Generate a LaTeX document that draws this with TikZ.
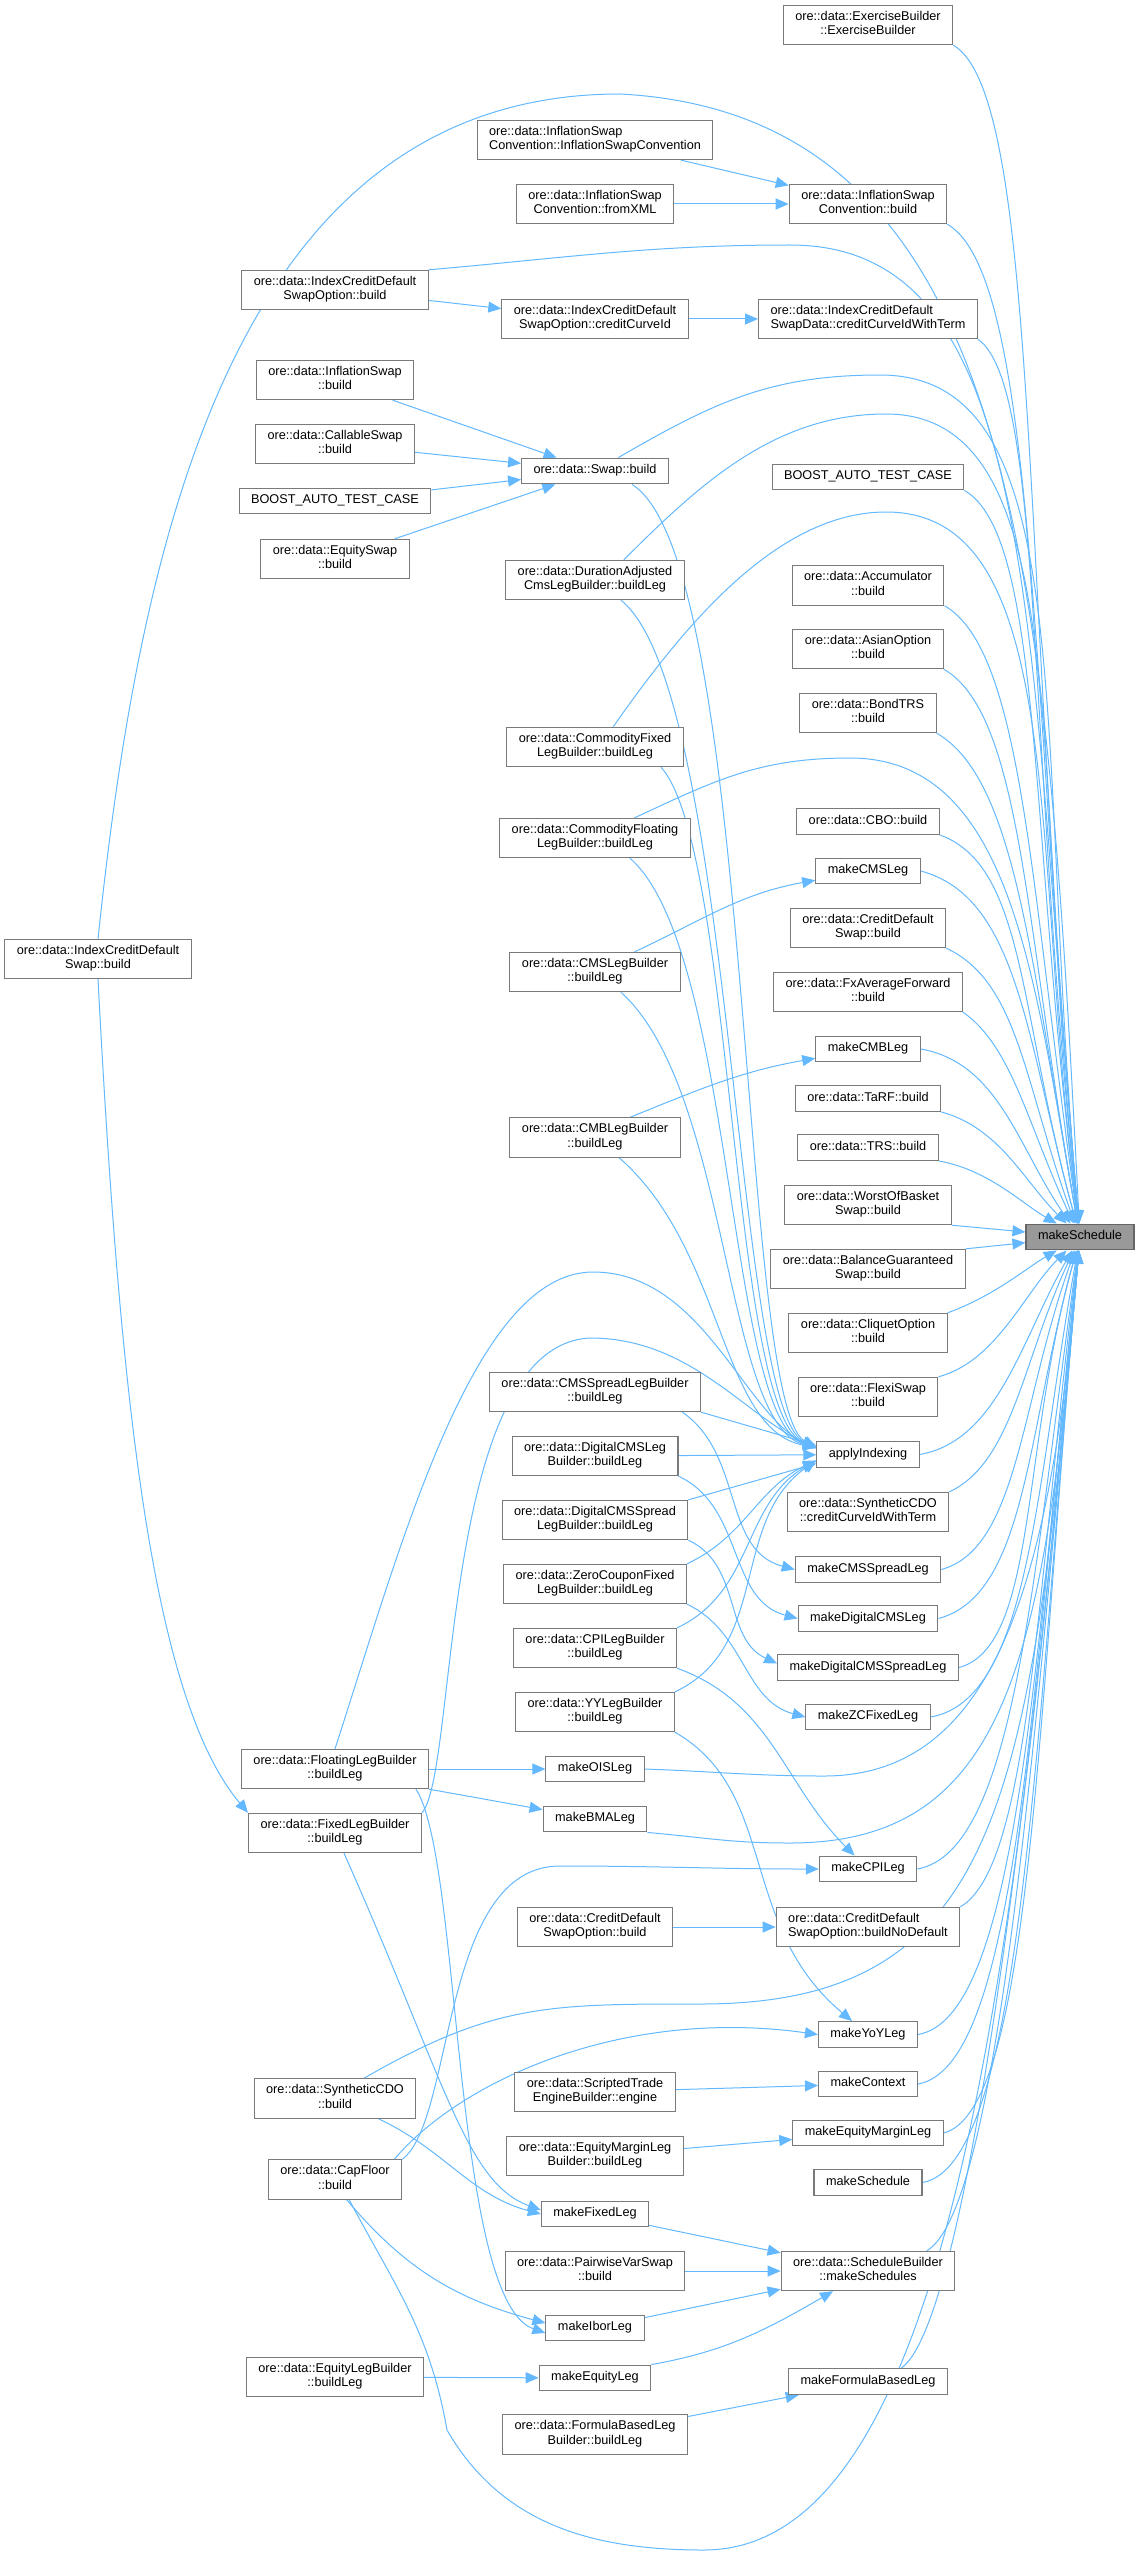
\documentclass[tikz,border=0pt]{standalone}
\usepackage{fontspec}
\setmainfont{Liberation Sans}
\usetikzlibrary{arrows.meta,backgrounds}
\definecolor{edgeblue}{HTML}{63B8FF}
\definecolor{boxline}{HTML}{7A7A7A}
\definecolor{focusfill}{HTML}{999999}

\begin{document}
\begin{tikzpicture}[x=1pt, y=1pt,
  fn/.style={draw=boxline, line width=1.1pt, fill=white, align=center, inner xsep=12pt, inner ysep=5.8pt,
    font=\fontsize{12.7}{14.2}\selectfont, execute at begin node=\strut, execute at end node=\strut},
  fnl/.style={fn, align=left},
  focus/.style={fn, fill=focusfill, draw=black!60},
  calls/.style={draw=edgeblue, line width=1pt, -{Triangle[length=13pt, width=11pt]}}]
\useasboundingbox (0,0) rectangle (1139,-2555);

% Left columns of callers
\node[fn] (icds) at (98,-959) {ore::data::IndexCreditDefault\\Swap::build};
\node[fn] (icdsobuild) at (335,-290) {ore::data::IndexCreditDefault\\SwapOption::build};
\node[fn] (infswap) at (335,-380) {ore::data::InflationSwap\\::build};
\node[fn] (callable) at (335,-444) {ore::data::CallableSwap\\::build};
\node[fn] (boostone) at (335,-501) {BOOST\_AUTO\_TEST\_CASE};
\node[fn] (eqswap) at (335,-559) {ore::data::EquitySwap\\::build};
\node[fn] (floatleg) at (335,-1769) {ore::data::FloatingLegBuilder\\::buildLeg};
\node[fn] (fixedleg) at (335,-1833) {ore::data::FixedLegBuilder\\::buildLeg};
\node[fn] (scdo) at (335,-2098.5) {ore::data::SyntheticCDO\\::build};
\node[fn] (capfloor) at (335,-2179.5) {ore::data::CapFloor\\::build};
\node[fn] (eqlegb) at (335,-2377) {ore::data::EquityLegBuilder\\::buildLeg};

% Middle column
\node[fnl] (iscctor) at (595,-140) {ore::data::InflationSwap\\Convention::InflationSwapConvention};
\node[fn] (iscxml) at (595,-204) {ore::data::InflationSwap\\Convention::fromXML};
\node[fn] (icdsocc) at (595,-319) {ore::data::IndexCreditDefault\\SwapOption::creditCurveId};
\node[fn] (swapbuild) at (595,-471) {ore::data::Swap::build};
\node[fn] (durcms) at (595,-580) {ore::data::DurationAdjusted\\CmsLegBuilder::buildLeg};
\node[fn] (comfixed) at (595,-747) {ore::data::CommodityFixed\\LegBuilder::buildLeg};
\node[fn] (comfloat) at (595,-838) {ore::data::CommodityFloating\\LegBuilder::buildLeg};
\node[fn] (cmslb) at (595,-972) {ore::data::CMSLegBuilder\\::buildLeg};
\node[fn] (cmblb) at (595,-1137.5) {ore::data::CMBLegBuilder\\::buildLeg};
\node[fn] (cmsspreadlb) at (595,-1392) {ore::data::CMSSpreadLegBuilder\\::buildLeg};
\node[fn] (digcmslb) at (595,-1456) {ore::data::DigitalCMSLeg\\Builder::buildLeg};
\node[fn] (digcmsspreadlb) at (595,-1520) {ore::data::DigitalCMSSpread\\LegBuilder::buildLeg};
\node[fn] (zcfixedlb) at (595,-1584) {ore::data::ZeroCouponFixed\\LegBuilder::buildLeg};
\node[fn] (cpilb) at (595,-1648) {ore::data::CPILegBuilder\\::buildLeg};
\node[fn] (yylb) at (595,-1712) {ore::data::YYLegBuilder\\::buildLeg};
\node[fn] (mkois) at (595,-1769) {makeOISLeg};
\node[fn] (mkbma) at (595,-1819) {makeBMALeg};
\node[fn] (cdsobuild) at (595,-1927) {ore::data::CreditDefault\\SwapOption::build};
\node[fn] (scripted) at (595,-2092) {ore::data::ScriptedTrade\\EngineBuilder::engine};
\node[fn] (eqmarginlb) at (595,-2156) {ore::data::EquityMarginLeg\\Builder::buildLeg};
\node[fn] (mkfixed) at (595,-2214) {makeFixedLeg};
\node[fn] (pairwise) at (595,-2271) {ore::data::PairwiseVarSwap\\::build};
\node[fn] (mkibor) at (595,-2328) {makeIborLeg};
\node[fn] (mkeqleg) at (595,-2378) {makeEquityLeg};
\node[fn] (formulalb) at (595,-2434.5) {ore::data::FormulaBasedLeg\\Builder::buildLeg};

% Direct callers of makeSchedule
\node[fn] (exbuilder) at (868,-25) {ore::data::ExerciseBuilder\\::ExerciseBuilder};
\node[fn] (iscbuild) at (868,-204) {ore::data::InflationSwap\\Convention::build};
\node[fnl] (icdsdcc) at (868,-319) {ore::data::IndexCreditDefault\\SwapData::creditCurveIdWithTerm};
\node[fn] (boosttwo) at (868,-477) {BOOST\_AUTO\_TEST\_CASE};
\node[fn] (accum) at (868,-585.5) {ore::data::Accumulator\\::build};
\node[fn] (asian) at (868,-649) {ore::data::AsianOption\\::build};
\node[fn] (bondtrs) at (868,-713) {ore::data::BondTRS\\::build};
\node[fn] (cbo) at (868,-821.5) {ore::data::CBO::build};
\node[fn] (mkcms) at (868,-871) {makeCMSLeg};
\node[fn] (cds) at (868,-928) {ore::data::CreditDefault\\Swap::build};
\node[fn] (fxavg) at (868,-992) {ore::data::FxAverageForward\\::build};
\node[fn] (mkcmb) at (868,-1049) {makeCMBLeg};
\node[fn] (tarf) at (868,-1098.5) {ore::data::TaRF::build};
\node[fn] (trs) at (868,-1147.5) {ore::data::TRS::build};
\node[fn] (worst) at (868,-1205) {ore::data::WorstOfBasket\\Swap::build};
\node[fn] (bgs) at (868,-1269) {ore::data::BalanceGuaranteed\\Swap::build};
\node[fn] (cliquet) at (868,-1333) {ore::data::CliquetOption\\::build};
\node[fn] (flexi) at (868,-1397) {ore::data::FlexiSwap\\::build};
\node[fn] (applyidx) at (868,-1454.5) {applyIndexing};
\node[fn] (scdocc) at (868,-1512) {ore::data::SyntheticCDO\\::creditCurveIdWithTerm};
\node[fn] (mkcmsspread) at (868,-1569.5) {makeCMSSpreadLeg};
\node[fn] (mkdigcms) at (868,-1618.5) {makeDigitalCMSLeg};
\node[fn] (mkdigcmsspread) at (868,-1667.5) {makeDigitalCMSSpreadLeg};
\node[fn] (mkzc) at (868,-1717) {makeZCFixedLeg};
\node[fn] (mkcpi) at (868,-1869) {makeCPILeg};
\node[fnl] (cdsobnd) at (868,-1927) {ore::data::CreditDefault\\SwapOption::buildNoDefault};
\node[fn] (mkyoy) at (868,-2034.5) {makeYoYLeg};
\node[fn] (mkcontext) at (868,-2084) {makeContext};
\node[fn] (mkeqmargin) at (868,-2133) {makeEquityMarginLeg};
\node[fn] (mksched) at (868,-2182.5) {makeSchedule};
\node[fn] (schedbuilder) at (868,-2271) {ore::data::ScheduleBuilder\\::makeSchedules};
\node[fn] (mkformula) at (868,-2381.5) {makeFormulaBasedLeg};

% The function itself
\node[focus] (sched) at (1080,-1237) {makeSchedule};

\begin{scope}[on background layer]
% Short calls between callers
\draw[calls] (iscctor) -- (iscbuild);
\draw[calls] (iscxml) -- (iscbuild);
\draw[calls] (icdsobuild) -- (icdsocc);
\draw[calls] (icdsocc) -- (icdsdcc);
\draw[calls] (infswap) -- (swapbuild);
\draw[calls] (callable) -- (swapbuild);
\draw[calls] (boostone) -- (swapbuild);
\draw[calls] (eqswap) -- (swapbuild);
\draw[calls] (cmslb.27) to[out=25, in=190] (mkcms);
\draw[calls] (cmblb.30) to[out=22, in=190] (mkcmb);
\draw[calls] (floatleg) -- (mkois);
\draw[calls] (floatleg.south east) -- (mkbma);
\draw[calls] (cdsobuild) -- (cdsobnd);
\draw[calls] (scripted) -- (mkcontext);
\draw[calls] (eqmarginlb) -- (mkeqmargin);
\draw[calls] (mkfixed) -- (schedbuilder);
\draw[calls] (pairwise) -- (schedbuilder);
\draw[calls] (mkibor) -- (schedbuilder);
\draw[calls] (mkeqleg.north east) to[out=10, in=-150] (schedbuilder);
\draw[calls] (eqlegb) -- (mkeqleg);
\draw[calls] (formulalb) -- (mkformula);
\draw[calls] (cmsspreadlb.-13) to[out=-35, in=165] (mkcmsspread.west);
\draw[calls] (digcmslb.south east) to[out=-25, in=165] (mkdigcms.west);
\draw[calls] (digcmsspreadlb.south east) to[out=-25, in=155] ([yshift=4pt]mkdigcmsspread.west);
\draw[calls] (zcfixedlb.south east) to[out=-25, in=165] (mkzc.west);
\draw[calls] (cpilb.south east) to[out=-20, in=135] (mkcpi);
\draw[calls] (yylb.south east) to[out=-30, in=140, out distance=120, in distance=150] (mkyoy);

% Into applyIndexing
\draw[calls] (swapbuild.-20) .. controls (755,-560) and (738,-1405) .. ([yshift=7pt]applyidx.west);
\draw[calls] (durcms.-38) .. controls (735,-690) and (733,-1410) .. ([yshift=7pt]applyidx.west);
\draw[calls] (comfixed.-17) .. controls (735,-850) and (730,-1415) .. ([yshift=7pt]applyidx.west);
\draw[calls] (comfloat.-30) .. controls (735,-950) and (727,-1420) .. ([yshift=7pt]applyidx.west);
\draw[calls] (cmslb.-38) .. controls (730,-1090) and (724,-1425) .. ([yshift=7pt]applyidx.west);
\draw[calls] (cmblb.-40) .. controls (725,-1250) and (720,-1430) .. ([yshift=7pt]applyidx.west);
\draw[calls] (floatleg.north) to[out=72, in=180, in distance=120] (593,-1272)
  to[out=0, in=155, out distance=110, in distance=80] ([yshift=6pt]applyidx.west);
\draw[calls] (fixedleg.north east) .. controls (458,-1770) and (440,-1345) .. (590,-1338)
  to[out=0, in=155, out distance=100, in distance=80] ([yshift=6pt]applyidx.west);
\draw[calls] (cmsspreadlb.south east) -- ([yshift=9pt]applyidx.west);
\draw[calls] (digcmslb) -- (applyidx);
\draw[calls] (digcmsspreadlb.north east) -- ([yshift=-9pt]applyidx.west);
\draw[calls] (zcfixedlb.north east) to[out=25, in=205] ([yshift=-6pt]applyidx.west);
\draw[calls] (cpilb.north east) to[out=25, in=210] ([yshift=-6pt]applyidx.west);
\draw[calls] (yylb.north east) to[out=25, in=215] ([yshift=-6pt]applyidx.west);

% Lower left calls
\draw[calls] (icds.south) to[out=-87, in=130, out distance=420, in distance=150] (fixedleg.north west);
\draw[calls] (floatleg.-14) .. controls (462,-1860) and (452,-2300) .. ([yshift=-5pt]mkibor.west);
\draw[calls] (fixedleg.-66) to[out=-66, in=160, out distance=250, in distance=80] ([yshift=4pt]mkfixed.west);
\draw[calls] (scdo.-25) to[out=-25, in=165] (mkfixed.west);
\draw[calls] (capfloor.-60) to[out=-50, in=165] ([yshift=5pt]mkibor.west);
\draw[calls] (capfloor.north east) .. controls (455,-2120) and (440,-1866) .. (560,-1866) to[out=0, in=180] (mkcpi.west);
\draw[calls] ([xshift=-8pt]capfloor.north east) to[out=50, in=172, out distance=100, in distance=200] (mkyoy.west);

% Long calls into makeSchedule
\draw[calls] (icds.north) .. controls (139,-551) and (230,-94) .. (620,-94)
  .. controls (1020,-115) and (1046,-581) .. ([shift={(93:24)}]sched.93) -- (sched.93);
\draw[calls] (icdsobuild.north east) to[out=5, in=180, out distance=140, in distance=140] (790,-245)
  .. controls (1040,-245) and (1026,-622) .. ([shift={(95:24)}]sched.95) -- (sched.95);
\draw[calls] (swapbuild.30) to[out=30, in=180, out distance=110, in distance=110] (880,-375)
  .. controls (1080,-375) and (1035,-722) .. ([shift={(95:24)}]sched.95) -- (sched.95);
\draw[calls] (durcms.35) to[out=45, in=180, out distance=110, in distance=110] (886,-414)
  to[out=0, in=96, out distance=190, in distance=430] ([shift={(96:24)}]sched.96) -- (sched.96);
\draw[calls] (comfixed.48) to[out=55, in=180, out distance=120, in distance=110] (886,-512)
  to[out=0, in=97, out distance=180, in distance=360] ([shift={(97:24)}]sched.97) -- (sched.97);
\draw[calls] (comfloat.27) to[out=25, in=180, out distance=90, in distance=90] (850,-758)
  to[out=0, in=100, out distance=160, in distance=230] ([shift={(100:24)}]sched.100) -- (sched.100);
\draw[calls] (mkois.east) to[out=-2, in=180, out distance=70, in distance=70] (824,-1776)
  to[out=0, in=-95, out distance=170, in distance=310] ([shift={(-95:24)}]sched.-95) -- (sched.-95);
\draw[calls] (mkbma.south east) to[out=-5, in=180, out distance=60, in distance=60] (790,-1843)
  to[out=0, in=-95, out distance=220, in distance=380] ([shift={(-95:24)}]sched.-95) -- (sched.-95);
\draw[calls] (scdo.35) to[out=30, in=180, out distance=150, in distance=150] (700,-2004)
  to[out=0, in=-95, out distance=300, in distance=530] ([shift={(-95:24)}]sched.-95) -- (sched.-95);
\draw[calls] (capfloor.-55) to[out=-62, in=100, out distance=100, in distance=100] (447,-2430)
  to[out=-60, in=180, out distance=110, in distance=110] (704,-2550)
  .. controls (954,-2550) and (1017,-1951) .. ([shift={(-95:24)}]sched.-95) -- (sched.-95);

% Callers above makeSchedule
\draw[calls] (exbuilder.south east) .. controls (1039,-95) and (1022,-572) .. ([shift={(95:24)}]sched.95) -- (sched.95);
\draw[calls] (iscbuild.south east) .. controls (1034,-274) and (1031,-672) .. ([shift={(95:24)}]sched.95) -- (sched.95);
\draw[calls] (icdsdcc.south east) .. controls (1043,-385) and (1027,-733) .. ([shift={(96:24)}]sched.96) -- (sched.96);
\draw[calls] (boosttwo.south east) to[out=-30, in=97, out distance=90, in distance=380] ([shift={(97:24)}]sched.97) -- (sched.97);
\draw[calls] (accum.south east) to[out=-30, in=98, out distance=90, in distance=320] ([shift={(98:24)}]sched.98) -- (sched.98);
\draw[calls] (asian.south east) to[out=-30, in=100, out distance=90, in distance=280] ([shift={(100:24)}]sched.100) -- (sched.100);
\draw[calls] (bondtrs.south east) to[out=-30, in=100, out distance=90, in distance=250] ([shift={(100:24)}]sched.100) -- (sched.100);
\draw[calls] (cbo.south east) to[out=-20, in=105, out distance=90, in distance=200] ([shift={(105:24)}]sched.105) -- (sched.105);
\draw[calls] (mkcms.east) to[out=-15, in=105, out distance=100, in distance=170] ([shift={(105:24)}]sched.105) -- (sched.105);
\draw[calls] (cds.south east) to[out=-25, in=110, out distance=80, in distance=150] (sched.110);
\draw[calls] (fxavg.south east) to[out=-35, in=115, out distance=60, in distance=110] (sched.115);
\draw[calls] (mkcmb.east) to[out=-10, in=125, out distance=80, in distance=90] (sched.125);
\draw[calls] (tarf.south east) to[out=-15, in=135, out distance=60, in distance=60] (sched.135);
\draw[calls] (trs.south east) to[out=-10, in=150, out distance=50, in distance=40] (sched.150);
\draw[calls] (worst.south east) -- (sched);
\draw[calls] (bgs.north east) -- (sched);

% Callers below makeSchedule
\draw[calls] (cliquet.north east) to[out=20, in=-150, out distance=50, in distance=35] (sched.-150);
\draw[calls] (flexi.north east) to[out=15, in=-135, out distance=60, in distance=60] (sched.-135);
\draw[calls] (applyidx.east) to[out=10, in=-120, out distance=80, in distance=100] (sched.-120);
\draw[calls] (scdocc.north east) to[out=25, in=-115, out distance=70, in distance=120] (sched.-115);
\draw[calls] (mkcmsspread.east) to[out=15, in=-110, out distance=80, in distance=160] (sched.-110);
\draw[calls] (mkdigcms.east) to[out=15, in=-105, out distance=90, in distance=170] ([shift={(-105:24)}]sched.-105) -- (sched.-105);
\draw[calls] (mkdigcmsspread.east) to[out=15, in=-105, out distance=80, in distance=190] ([shift={(-105:24)}]sched.-105) -- (sched.-105);
\draw[calls] (mkzc.east) to[out=10, in=-100, out distance=100, in distance=220] ([shift={(-100:24)}]sched.-100) -- (sched.-100);
\draw[calls] (mkcpi.east) to[out=10, in=-98, out distance=100, in distance=300] ([shift={(-98:24)}]sched.-98) -- (sched.-98);
\draw[calls] (cdsobnd.north east) to[out=30, in=-97, out distance=80, in distance=320] ([shift={(-97:24)}]sched.-97) -- (sched.-97);
\draw[calls] (mkyoy.east) to[out=10, in=-96, out distance=100, in distance=400] ([shift={(-96:24)}]sched.-96) -- (sched.-96);
\draw[calls] (mkcontext.east) to[out=10, in=-96, out distance=100, in distance=430] ([shift={(-96:24)}]sched.-96) -- (sched.-96);
\draw[calls] (mkeqmargin.east) .. controls (1030,-2110) and (1037,-1732) .. ([shift={(-95:24)}]sched.-95) -- (sched.-95);
\draw[calls] (mksched.east) .. controls (1021,-2165) and (1035,-1752) .. ([shift={(-95:24)}]sched.-95) -- (sched.-95);
\draw[calls] (schedbuilder.19) .. controls (996,-2211) and (1033,-1772) .. ([shift={(-95:24)}]sched.-95) -- (sched.-95);
\draw[calls] (mkformula.22) .. controls (966,-2323) and (1030,-1812) .. ([shift={(-95:24)}]sched.-95) -- (sched.-95);
\end{scope}
\end{tikzpicture}
\end{document}
